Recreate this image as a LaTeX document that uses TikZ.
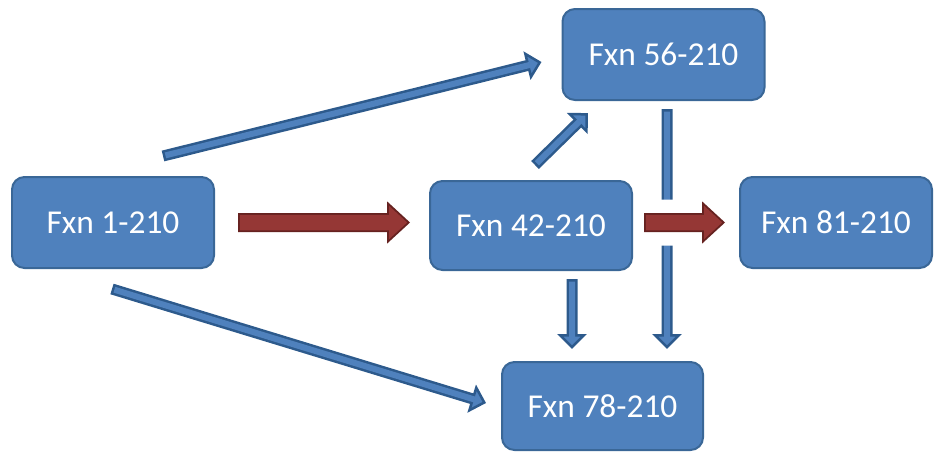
\documentclass[tikz,border=0pt]{standalone}
\usepackage{fontspec}
\newfontfamily\fxnfont{Carlito}
\usepackage{tikz}
\usetikzlibrary{arrows.meta}

\definecolor{boxfill}{HTML}{4F81BD}
\definecolor{boxedge}{HTML}{3A6797}
\definecolor{arrowedge}{HTML}{2D5A8C}
\definecolor{redfill}{HTML}{953735}
\definecolor{rededge}{HTML}{662220}

\begin{document}
\begin{tikzpicture}[
    every node/.style={font=\fxnfont\fontsize{19}{21}\selectfont},
    fxnbox/.style={draw=boxedge, fill=boxfill, rounded corners=0.25cm, line width=0.04cm, text=white, minimum width=4.04cm, minimum height=1.82cm},
    bluearrow/.style={draw=arrowedge, line width=0.22cm, -{Triangle[length=0.3cm, width=0.58cm, fill=boxfill, line width=0.05cm]},
        postaction={draw=boxfill, line width=0.12cm, -, shorten <=0.05cm, shorten >=0.24cm}},
    redarrow/.style={draw=rededge, line width=0.38cm, -{Triangle[length=0.46cm, width=0.84cm, fill=redfill, line width=0.035cm]},
        postaction={draw=redfill, line width=0.31cm, -, shorten <=0.035cm, shorten >=0.42cm}},
    crossgap/.style={preaction={draw=white, line width=0.92cm, -}}
]
\useasboundingbox (0,0) rectangle (18.68,9.02);

\node[fxnbox] (f1) at (2.26,4.57) {Fxn 1-210};
\node[fxnbox] (f56) at (13.27,7.93) {Fxn 56-210};
\node[fxnbox, minimum height=1.78cm] (f42) at (10.62,4.51) {Fxn 42-210};
\node[fxnbox, minimum width=3.84cm] (f81) at (16.72,4.57) {Fxn 81-210};
\node[fxnbox, minimum width=4.02cm, minimum height=1.76cm] (f78) at (12.05,0.9) {Fxn 78-210};

\draw[bluearrow] ([shift={(1.0,0.4)}]f1.north) -- ([shift={(-0.4,-0.15)}]f56.west);
\draw[bluearrow] ([shift={(0.08,0.3)}]f42.north) -- ([shift={(-1.51,-0.24)}]f56.south);
\draw[bluearrow] ([shift={(0.07,-0.16)}]f56.south) -- ([shift={(1.29,0.24)}]f78.north);
\draw[bluearrow] ([shift={(0.82,-0.16)}]f42.south) -- ([shift={(-0.61,0.24)}]f78.north);
\draw[bluearrow] ([shift={(-0.02,-0.4)}]f1.south) -- ([shift={(-0.3,0.06)}]f78.west);

\draw[redarrow] ([xshift=0.46cm]f1.east) -- ([shift={(-0.38,0.06)}]f42.west);
\draw[redarrow, crossgap] ([shift={(0.22,0.06)}]f42.east) -- ([xshift=-0.28cm]f81.west);
\end{tikzpicture}
\end{document}
